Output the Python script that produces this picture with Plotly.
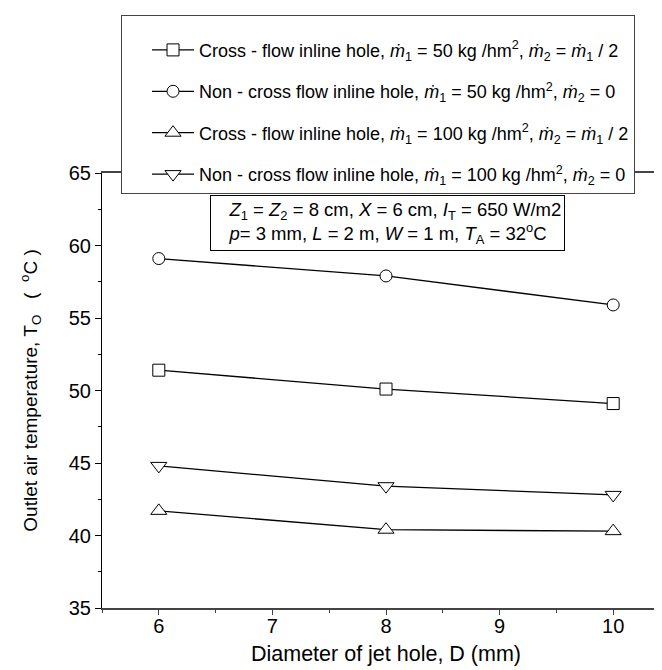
import plotly.graph_objects as go

diameter = [6, 8, 10]
cross_50 = [51.4, 50.1, 49.1]
noncross_50 = [59.1, 57.9, 55.9]
cross_100 = [41.7, 40.4, 40.3]
noncross_100 = [44.8, 43.4, 42.8]

md = "<i>ṁ</i>"
NB = "\u00a0"
names = [
    "Cross - flow inline hole, " + md + "<sub>1</sub> = 50 kg /hm<sup>2</sup>, " + md + "<sub>2</sub> = " + md + "<sub>1</sub> / 2",
    "Non - cross flow inline hole, " + md + "<sub>1</sub> = 50 kg /hm<sup>2</sup>, " + md + "<sub>2</sub> = 0",
    "Cross - flow inline hole, " + md + "<sub>1</sub> = 100 kg /hm<sup>2</sup>, " + md + "<sub>2</sub> = " + md + "<sub>1</sub> / 2",
    "Non - cross flow inline hole, " + md + "<sub>1</sub> = 100 kg /hm<sup>2</sup>, " + md + "<sub>2</sub> = 0",
]
series = [cross_50, noncross_50, cross_100, noncross_100]
symbols = ["square", "circle", "triangle-up", "triangle-down"]
sizes = [12, 12, 14, 14]

FONT = "Liberation Sans, Arial, sans-serif"

fig = go.Figure()
for i, (nm, ys, sym, sz) in enumerate(zip(names, series, symbols, sizes)):
    fig.add_trace(go.Scatter(
        x=diameter, y=ys, name=nm, mode="lines+markers",
        line=dict(color="black", width=1.3),
        marker=dict(symbol=sym, size=sz, color="white",
                    line=dict(color="black", width=1)),
        legendgroup="g%d" % i,
    ))

# dummy trace for right-side mirrored ticks
fig.add_trace(go.Scatter(x=diameter, y=noncross_50, yaxis="y2", mode="lines",
                         line=dict(width=0), showlegend=False, hoverinfo="skip"))

fig.update_layout(
    width=662, height=670,
    margin=dict(l=94, r=0, t=165, b=70),
    paper_bgcolor="white", plot_bgcolor="white",
    font=dict(family=FONT, size=18, color="black"),
    showlegend=True,
    legend=dict(
        x=0.0335, y=1.363, xanchor="left", yanchor="top",
        bordercolor="#444", borderwidth=1, bgcolor="white",
        font=dict(family=FONT, size=18, color="black"),
        tracegroupgap=15, indentation=25, itemwidth=42,
        title=dict(text=" ", font=dict(size=12)),
    ),
    xaxis=dict(
        range=[5.5, 10.5], tickvals=[6, 7, 8, 9, 10],
        ticks="outside", ticklen=5, tickcolor="#444",
        minor=dict(dtick=0.5, tick0=6, ticks="outside", ticklen=3, tickcolor="#444"),
        showline=True, linecolor="#444", linewidth=1.5, mirror=True,
        showgrid=False, zeroline=False,
        tickfont=dict(family=FONT, size=20), ticklabelstandoff=-6,
        title=dict(text="Diameter of jet hole, D (mm)", font=dict(family=FONT, size=21.5), standoff=10),
    ),
    yaxis=dict(
        range=[35, 65], tickvals=[35, 40, 45, 50, 55, 60, 65],
        ticks="outside", ticklen=6, tickcolor="black",
        minor=dict(dtick=2.5, tick0=35, ticks="outside", ticklen=3, tickcolor="black"),
        showline=True, linecolor="black", linewidth=1, mirror=False,
        showgrid=False, zeroline=False,
        tickfont=dict(family=FONT, size=20),
        title=dict(text="Outlet air temperature, T<sub>O</sub>" + NB * 3 + "(" + NB * 2 + "<sup>o</sup>C" + NB + ")",
                   font=dict(family=FONT, size=19), standoff=26),
    ),
    yaxis2=dict(
        range=[35, 65], overlaying="y", side="right", anchor="x",
        tickvals=[35, 40, 45, 50, 55, 60, 65], showticklabels=False,
        ticks="inside", ticklen=5, tickcolor="black",
        minor=dict(dtick=2.5, tick0=35, ticks="inside", ticklen=3, tickcolor="black"),
        showline=False, showgrid=False, zeroline=False,
    ),
    annotations=[dict(
        xref="paper", yref="paper", x=0.191, y=0.950, xanchor="left", yanchor="top",
        text=NB * 3 + "<i>Z</i><sub>1</sub> = <i>Z</i><sub>2</sub> = 8 cm, <i>X</i> = 6 cm, <i>I</i><sub>T</sub> = 650 W/m2<br>"
             + NB * 3 + "<i>p</i>= 3 mm, <i>L</i> = 2 m, <i>W</i> = 1 m, <i>T</i><sub>A</sub> = 32<sup>o</sup>C",
        showarrow=False, align="left", bordercolor="black", borderwidth=1, borderpad=3,
        bgcolor="white", font=dict(family=FONT, size=18.5, color="black"),
    )],
)

fig.write_html("out.html")
